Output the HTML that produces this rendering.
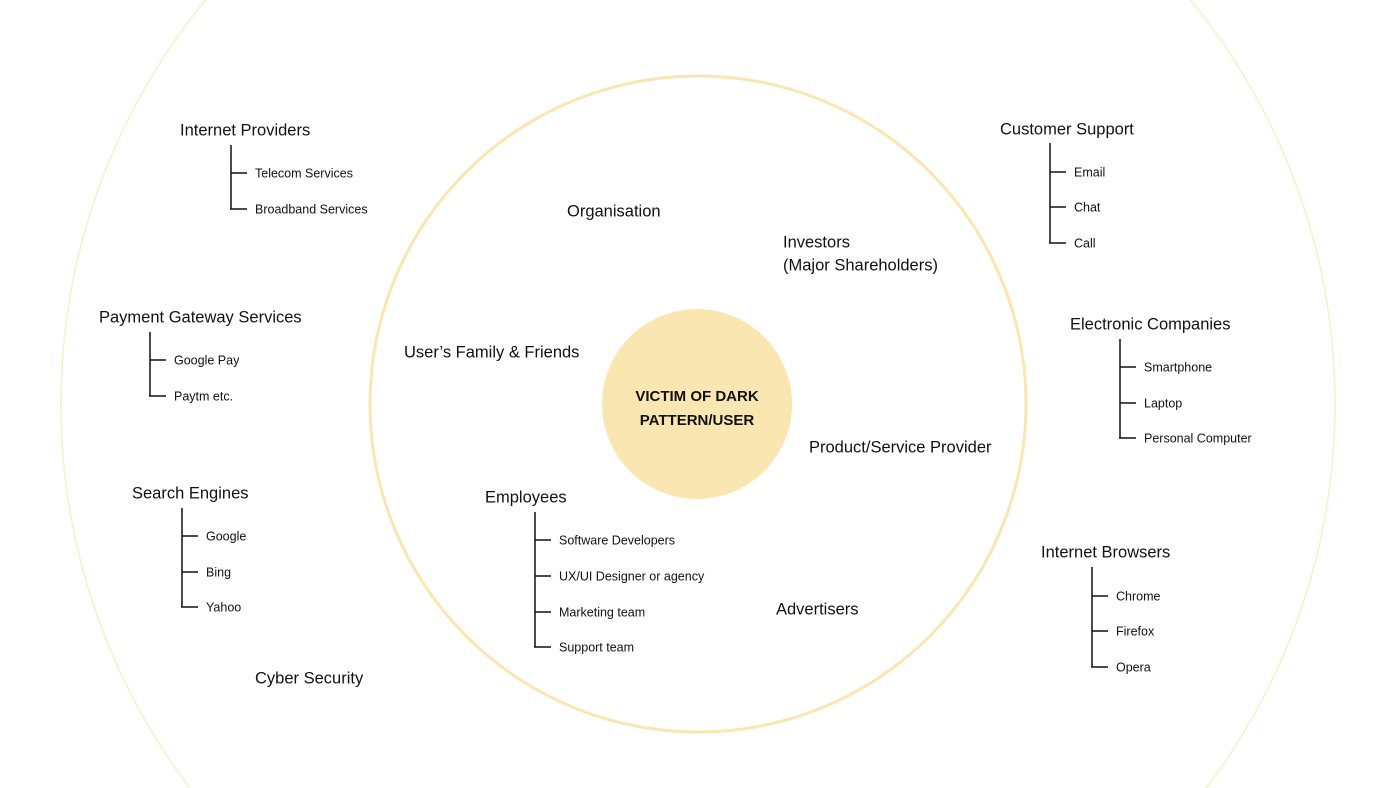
<!DOCTYPE html>
<html><head><meta charset="utf-8"><style>
html,body{margin:0;padding:0;background:#fff;width:1400px;height:788px;overflow:hidden;}
#w{position:relative;width:1400px;height:788px;overflow:hidden;}
svg{display:block;overflow:hidden;}
text{font-family:"Liberation Sans",sans-serif;fill:#111;dominant-baseline:middle;}
.h{font-size:16.5px;}
.s{font-size:12.5px;}
.c{font-size:15px;font-weight:bold;text-anchor:middle;}
line{stroke:#111;stroke-width:1.5;}
</style></head><body><div id="w">
<svg width="1400" height="788" viewBox="0 0 1400 788">
<clipPath id="cp"><rect x="0" y="0" width="1400" height="788"/></clipPath>
<g clip-path="url(#cp)">
<circle cx="698" cy="404" r="637" fill="none" stroke="#f7eecb" stroke-width="1.5"/>
</g>
<circle cx="698" cy="404" r="328" fill="none" stroke="#f9e6b0" stroke-width="3"/>
<circle cx="697" cy="404" r="95" fill="#f9e6b0"/>
<text class="c" x="697" y="397">VICTIM OF DARK</text>
<text class="c" x="697" y="421">PATTERN/USER</text>

<text class="h" x="180" y="131">Internet Providers</text>
<line x1="231" y1="145" x2="231" y2="209"/><line x1="231" y1="173" x2="247" y2="173"/><line x1="230" y1="209" x2="247" y2="209"/>
<text class="s" x="255" y="174">Telecom Services</text><text class="s" x="255" y="210">Broadband Services</text>

<text class="h" x="99" y="318">Payment Gateway Services</text>
<line x1="150" y1="332" x2="150" y2="396"/><line x1="150" y1="360" x2="166" y2="360"/><line x1="149" y1="396" x2="166" y2="396"/>
<text class="s" x="174" y="361">Google Pay</text><text class="s" x="174" y="397">Paytm etc.</text>

<text class="h" x="132" y="494">Search Engines</text>
<line x1="182" y1="508" x2="182" y2="607"/><line x1="182" y1="536" x2="198" y2="536"/><line x1="182" y1="572" x2="198" y2="572"/><line x1="181" y1="607" x2="198" y2="607"/>
<text class="s" x="206" y="537">Google</text><text class="s" x="206" y="573">Bing</text><text class="s" x="206" y="608">Yahoo</text>

<text class="h" x="255" y="679">Cyber Security</text>

<text class="h" x="567" y="212">Organisation</text>
<text class="h" x="783" y="243">Investors</text>
<text class="h" x="783" y="266">(Major Shareholders)</text>
<text class="h" x="404" y="353">User’s Family &amp; Friends</text>
<text class="h" x="809" y="448">Product/Service Provider</text>
<text class="h" x="776" y="610">Advertisers</text>

<text class="h" x="485" y="498">Employees</text>
<line x1="535" y1="512" x2="535" y2="647"/><line x1="535" y1="540" x2="551" y2="540"/><line x1="535" y1="576" x2="551" y2="576"/><line x1="535" y1="612" x2="551" y2="612"/><line x1="534" y1="647" x2="551" y2="647"/>
<text class="s" x="559" y="541">Software Developers</text><text class="s" x="559" y="577">UX/UI Designer or agency</text><text class="s" x="559" y="613">Marketing team</text><text class="s" x="559" y="648">Support team</text>

<text class="h" x="1000" y="130">Customer Support</text>
<line x1="1050" y1="143" x2="1050" y2="243"/><line x1="1050" y1="172" x2="1066" y2="172"/><line x1="1050" y1="207" x2="1066" y2="207"/><line x1="1049" y1="243" x2="1066" y2="243"/>
<text class="s" x="1074" y="173">Email</text><text class="s" x="1074" y="208">Chat</text><text class="s" x="1074" y="244">Call</text>

<text class="h" x="1070" y="325">Electronic Companies</text>
<line x1="1120" y1="339" x2="1120" y2="438"/><line x1="1120" y1="367" x2="1136" y2="367"/><line x1="1120" y1="403" x2="1136" y2="403"/><line x1="1119" y1="438" x2="1136" y2="438"/>
<text class="s" x="1144" y="368">Smartphone</text><text class="s" x="1144" y="404">Laptop</text><text class="s" x="1144" y="439">Personal Computer</text>

<text class="h" x="1041" y="553">Internet Browsers</text>
<line x1="1092" y1="567" x2="1092" y2="667"/><line x1="1092" y1="596" x2="1108" y2="596"/><line x1="1092" y1="631" x2="1108" y2="631"/><line x1="1091" y1="667" x2="1108" y2="667"/>
<text class="s" x="1116" y="597">Chrome</text><text class="s" x="1116" y="632">Firefox</text><text class="s" x="1116" y="668">Opera</text>
</svg>
</div></body></html>
